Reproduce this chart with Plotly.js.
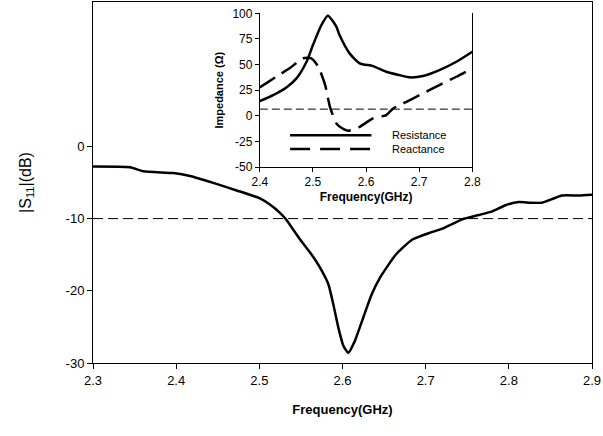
<!DOCTYPE html>
<html>
<head>
<meta charset="utf-8">
<script src="https://cdn.plot.ly/plotly-3.0.1.min.js"></script>
<style>html,body{margin:0;padding:0;background:#fff;}#chart{width:603px;height:436px;}</style>
</head>
<body>
<div id="chart"></div>
<script>
// Main plot: |S11| vs frequency
const s11Freq = [2.300, 2.3445, 2.3605, 2.3966, 2.4166, 2.4446, 2.4727, 2.5007, 2.5127, 2.5248, 2.532, 2.549, 2.563, 2.573, 2.583, 2.589, 2.595, 2.601, 2.607, 2.615, 2.625, 2.635, 2.645, 2.664, 2.684, 2.704, 2.720, 2.744, 2.764, 2.780, 2.796, 2.812, 2.826, 2.840, 2.852, 2.864, 2.884, 2.900];
const s11dB  = [-2.8, -2.9, -3.45, -3.7, -4.1, -5.05, -6.1, -7.2, -8.05, -9.2, -10.1, -12.9, -15.0, -16.8, -19.1, -21.9, -25.1, -27.6, -28.6, -26.9, -23.7, -20.5, -18.2, -15.0, -12.9, -12.0, -11.4, -10.1, -9.5, -9.0, -8.15, -7.7, -7.8, -7.8, -7.3, -6.8, -6.8, -6.7];
const s11Ref = -10;

// Inset: impedance
const resFreq = [2.400, 2.425, 2.450, 2.469, 2.488, 2.500, 2.516, 2.528, 2.544, 2.550, 2.569, 2.588, 2.613, 2.638, 2.663, 2.682, 2.707, 2.738, 2.770, 2.800];
const resOhm  = [14.4, 20.2, 27.7, 36.5, 52.7, 69.0, 88.6, 97.7, 87.0, 78.8, 60.9, 51.2, 48.5, 43.0, 39.7, 37.5, 38.8, 44.6, 52.7, 62.5];
const reaFreq = [2.400, 2.431, 2.456, 2.481, 2.497, 2.510, 2.523, 2.532, 2.544, 2.550, 2.566, 2.588, 2.613, 2.638, 2.651, 2.676, 2.707, 2.738, 2.770, 2.800];
const reaOhm  = [27.7, 38.1, 46.3, 56.1, 56.1, 47.9, 30.0, 8.8, -7.4, -10.5, -14.5, -10.7, -2.5, 0.7, 7.2, 13.7, 21.9, 30.0, 38.1, 46.3];
const insetRef = 6.5;

const mainXTicks = [2.3, 2.4, 2.5, 2.6, 2.7, 2.8, 2.9];
const mainYTicks = [-30, -20, -10, 0];
const insetXTicks = [2.4, 2.5, 2.6, 2.7, 2.8];
const insetYTicks = [-50, -25, 0, 25, 50, 75, 100];
const legendNames = ['Resistance', 'Reactance'];

const FONT = 'Liberation Sans, Arial, sans-serif';

const traces = [
  {x: s11Freq, y: s11dB, mode: 'lines', line: {color: '#000', width: 2.5, shape: 'spline', smoothing: 0.5}, xaxis: 'x', yaxis: 'y', showlegend: false, hoverinfo: 'skip'},
  {x: [mainXTicks[0], mainXTicks[mainXTicks.length-1]], y: [s11Ref, s11Ref], mode: 'lines', line: {color: '#000', width: 1, dash: '10px,5px'}, xaxis: 'x', yaxis: 'y', showlegend: false, hoverinfo: 'skip'},
  {x: [insetXTicks[0], insetXTicks[insetXTicks.length-1]], y: [insetRef, insetRef], mode: 'lines', line: {color: '#000', width: 1, dash: '8px,4px'}, xaxis: 'x2', yaxis: 'y2', showlegend: false, hoverinfo: 'skip'},
  {x: resFreq, y: resOhm, name: legendNames[0], mode: 'lines', line: {color: '#000', width: 2.5, shape: 'spline', smoothing: 0.6}, xaxis: 'x2', yaxis: 'y2', showlegend: false, hoverinfo: 'skip'},
  {x: reaFreq, y: reaOhm, name: legendNames[1], mode: 'lines', line: {color: '#000', width: 2.5, dash: '18px,8px', shape: 'spline', smoothing: 0.6}, xaxis: 'x2', yaxis: 'y2', showlegend: false, hoverinfo: 'skip'}
];

const layout = {
  width: 603, height: 436,
  margin: {l: 93, r: 11, t: 2, b: 73},
  paper_bgcolor: '#fff', plot_bgcolor: '#fff',
  font: {family: FONT, color: '#000', size: 12},
  showlegend: false,
  xaxis: {
    domain: [0, 1], range: [2.3, 2.9], tickvals: mainXTicks, ticktext: mainXTicks.map(v => v.toFixed(1)),
    showline: true, linecolor: '#000', linewidth: 1, mirror: true, ticks: 'outside', ticklen: 5, tickcolor: '#000',
    showgrid: false, zeroline: false, tickfont: {size: 13, family: FONT, color: '#000'},
    title: {text: '<b>Frequency(GHz)</b>', font: {size: 13, family: FONT, color: '#000'}, standoff: 18}
  },
  yaxis: {
    domain: [0, 1], range: [-30, 20], tickvals: mainYTicks, ticktext: mainYTicks.map(String),
    showline: true, linecolor: '#000', linewidth: 1, mirror: true, ticks: 'outside', ticklen: 5, tickcolor: '#000',
    showgrid: false, zeroline: false, tickfont: {size: 13, family: FONT, color: '#000'},
    title: {text: '|S<sub>11</sub>|(dB)', font: {size: 16, family: FONT, color: '#000'}, standoff: 30}
  },
  xaxis2: {
    domain: [0.3343, 0.7602], anchor: 'y2', range: [2.4, 2.8], tickvals: insetXTicks, ticktext: insetXTicks.map(v => v.toFixed(1)),
    showline: true, linecolor: '#000', linewidth: 1, mirror: false, ticks: 'outside', ticklen: 4, tickcolor: '#000',
    showgrid: false, zeroline: false, tickfont: {size: 12, family: FONT, color: '#000'},
    title: {text: '<b>Frequency(GHz)</b>', font: {size: 12, family: FONT, color: '#000'}, standoff: 4}
  },
  yaxis2: {
    domain: [0.5428, 0.9687], anchor: 'x2', range: [-50, 100], tickvals: insetYTicks, ticktext: insetYTicks.map(String),
    showline: true, linecolor: '#000', linewidth: 1, mirror: true, ticks: 'outside', ticklen: 4, tickcolor: '#000',
    showgrid: false, zeroline: false, tickfont: {size: 12, family: FONT, color: '#000'},
    title: {text: '<b>Impedance (Ω)</b>', font: {size: 11, family: FONT, color: '#000'}, standoff: 6}
  },
  shapes: [
    {type: 'line', xref: 'x2', yref: 'y2', x0: 2.457, x1: 2.610, y0: -19, y1: -19, line: {color: '#000', width: 2.5}},
    {type: 'line', xref: 'x2', yref: 'y2', x0: 2.457, x1: 2.610, y0: -32.5, y1: -32.5, line: {color: '#000', width: 2.5, dash: '20px,10px'}}
  ],
  annotations: [
    {xref: 'x2', yref: 'y2', x: 2.645, y: -19, text: legendNames[0], showarrow: false, xanchor: 'left', yanchor: 'middle', font: {size: 11, family: FONT, color: '#000'}},
    {xref: 'x2', yref: 'y2', x: 2.645, y: -32.5, text: legendNames[1], showarrow: false, xanchor: 'left', yanchor: 'middle', font: {size: 11, family: FONT, color: '#000'}}
  ]
};

Plotly.newPlot('chart', traces, layout, {staticPlot: true, displayModeBar: false});
</script>
</body>
</html>
